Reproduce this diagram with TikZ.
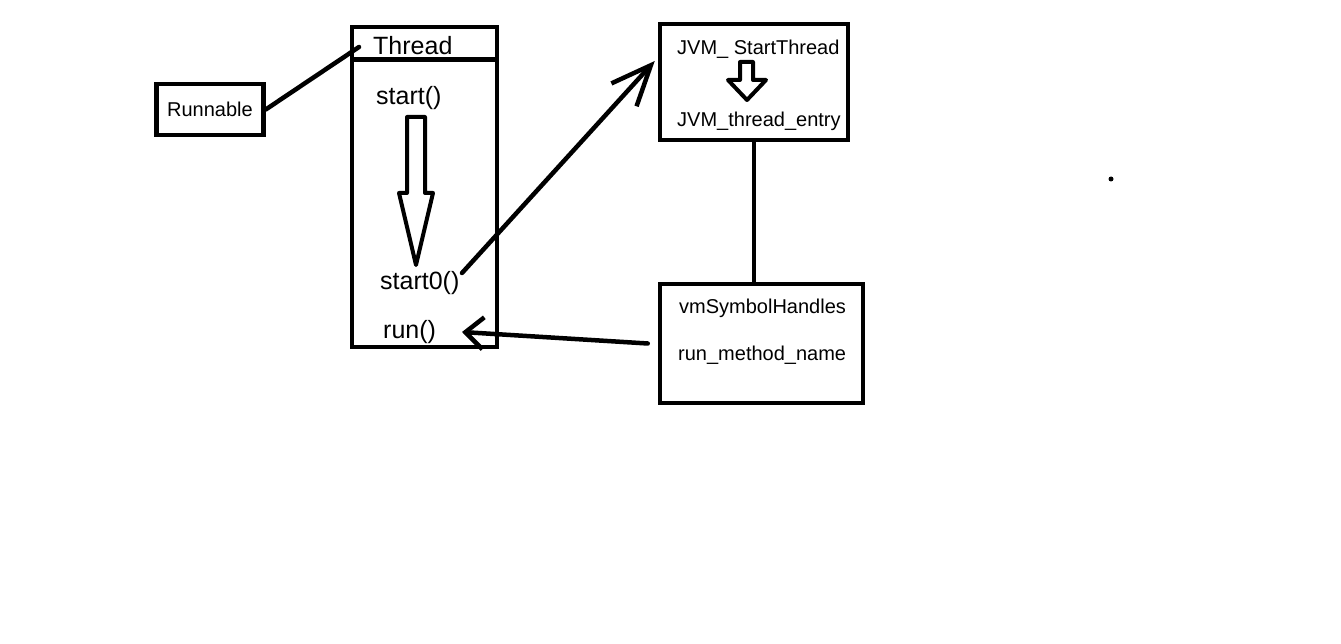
\documentclass[tikz,border=0pt]{standalone}
\usepackage{fontspec}
\setmainfont{Liberation Sans}
\usetikzlibrary{arrows.meta}
\tikzset{
  box/.style={draw, line width=4.5pt, inner sep=0pt},
  smalltext/.style={inner sep=0pt, font=\fontsize{20}{24}\selectfont},
  bigtext/.style={inner sep=0pt, font=\fontsize{25}{30}\selectfont},
  hollow/.style={line width=4pt, line join=round},
  link/.style={line width=4.5pt, line cap=round},
}
\begin{document}
\begin{tikzpicture}
\useasboundingbox[fill=white] (0pt,0pt) rectangle (1341pt,-644pt);
% boxes
\node[box, smalltext, minimum width=107pt, minimum height=51pt] (runnable) at (210pt,-109.5pt) {Runnable};
\node[box, minimum width=145pt, minimum height=320pt] (thread) at (424.5pt,-187pt) {};
\node[box, minimum width=188pt, minimum height=116pt] (jvm) at (754pt,-82pt) {};
\node[box, minimum width=203pt, minimum height=119pt] (vm) at (761.5pt,-343.5pt) {};
\draw[line width=4.5pt] ([yshift=-35pt]thread.north west) -- ([yshift=-35pt]thread.north east);
% texts
\node[bigtext, anchor=base west] (threadlbl) at (373pt,-55pt) {Thread};
\node[bigtext, anchor=base west] (start) at (376pt,-105pt) {start()};
\node[bigtext, anchor=base west] (start0) at (380pt,-290pt) {start0()};
\node[bigtext, anchor=base west] (run) at (383pt,-338pt) {run()};
\node[smalltext, anchor=base west] (jvmstart) at (677pt,-55pt) {JVM\_ StartThread};
\node[smalltext, anchor=base west] (jvmentry) at (677pt,-127pt) {JVM\_thread\_entry};
\node[smalltext, anchor=base west] (vmsym) at (679pt,-313pt) {vmSymbolHandles};
\node[smalltext, anchor=base west] (runname) at (678pt,-360pt) {run\_method\_name};
% hollow arrows
\draw[hollow] (407pt,-117pt) -- (425pt,-117pt) -- (425pt,-193pt) -- (433pt,-193pt)
  -- (416pt,-265pt) -- (399pt,-193pt) -- (407pt,-193pt) -- cycle;
\draw[hollow] (740pt,-62pt) -- (753pt,-62pt) -- (753pt,-80pt) -- (766pt,-80pt)
  -- (747pt,-100pt) -- (728pt,-80pt) -- (740pt,-80pt) -- cycle;
% connectors
\coordinate (knot) at (359pt,-47pt);
\coordinate (from0) at (462pt,-273pt);
\coordinate (runtip) at (462pt,-332pt);
\draw[link] (runnable.east) -- (knot);
\draw[link, -{Straight Barb[length=40pt, width=34pt, line width=4.5pt]}] (from0) -- ([xshift=-3pt, yshift=21pt]jvm.west);
\draw[link] (jvm.south) -- (jvm.south |- vm.north);
\draw[link, -{Straight Barb[length=18pt, width=32pt, line width=4.5pt]}] ([xshift=-10pt]vm.west) -- (runtip);
\fill (1111pt,-179pt) circle (2.5pt);
\end{tikzpicture}
\end{document}
